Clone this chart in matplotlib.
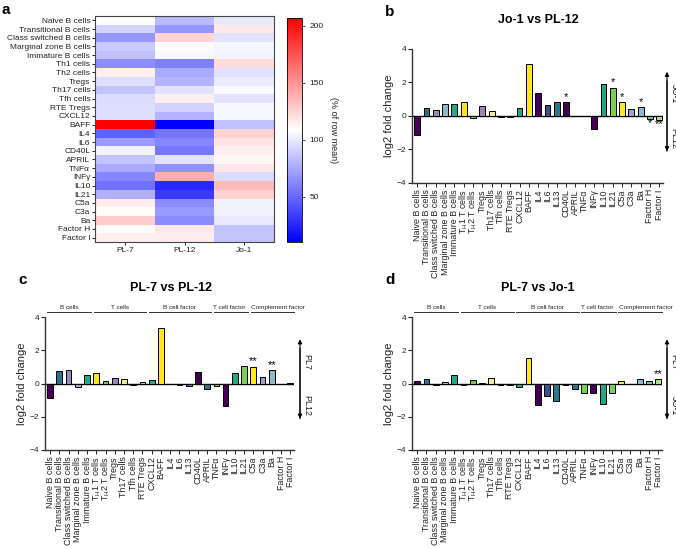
import numpy as np
import matplotlib
matplotlib.use('Agg')
import matplotlib.pyplot as plt

plt.rcParams['font.family'] = ['Liberation Sans', 'DejaVu Sans']
plt.rcParams['mathtext.default'] = 'regular'

# ---- heatmap data (% of row mean) ----
heat_rows = ['Naive B cells', 'Transitional B cells', 'Class switched B cells',
             'Marginal zone B cells', 'Immature B cells', 'Th1 cells', 'Th2 cells',
             'Tregs', 'Th17 cells', 'Tfh cells', 'RTE Tregs', 'CXCL12', 'BAFF',
             'IL4', 'IL6', 'CD40L', 'APRIL', 'TNFα', 'INFγ', 'IL10', 'IL21',
             'C5a', 'C3a', 'Ba', 'Factor H', 'Factor I']
heat_cols = ['PL-7', 'PL-12', 'Jo-1']
pl7_pct = [108, 92, 68, 88, 84, 64, 115, 96, 86, 95, 96, 96, 207, 48, 70,
           104, 86, 76, 62, 54, 78, 116, 110, 128, 110, 115]
pl12_pct = [82, 68, 125, 107, 106, 60, 76, 80, 97, 115, 92, 80, 10, 55, 62,
            56, 98, 66, 140, 26, 32, 64, 70, 64, 117, 116]
jo1_pct = [100, 117, 98, 105, 104, 122, 97, 101, 106, 98, 106, 106, 84, 125,
           120, 115, 112, 118, 95, 135, 126, 104, 104, 100, 86, 86]

# ---- bar data (log2 fold change) ----
bar_labels = ['Naive B cells', 'Transitional B cells', 'Class switched B cells',
              'Marginal zone B cells', 'Immature B cells', r'T$_H$1 T cells',
              r'T$_H$2 T cells', 'Tregs', 'Th17 cells', 'Tfh cells', 'RTE Tregs',
              'CXCL12', 'BAFF', 'IL4', 'IL6', 'IL13', 'CD40L', 'APRIL', 'TNFα',
              'INFγ', 'IL10', 'IL21', 'C5a', 'C3a', 'Ba', 'Factor H', 'Factor I']
jo1_vs_pl12 = [-1.11, 0.48, 0.38, 0.71, 0.73, 0.81, -0.1, 0.62, 0.3, -0.08, -0.05,
               0.48, 3.08, 1.37, 0.64, 0.83, 0.83, 0.0, 0.0, -0.75, 1.89, 1.69,
               0.82, 0.4, 0.52, -0.2, -0.26]
pl7_vs_pl12 = [-0.9, 0.76, 0.84, -0.2, 0.52, 0.66, 0.14, 0.36, 0.28, -0.1, 0.1,
               0.22, 3.32, -0.02, -0.1, -0.18, 0.7, -0.34, -0.14, -1.36, 0.62,
               1.04, 1.02, 0.42, 0.8, -0.02, 0.03]
pl7_vs_jo1 = [0.18, 0.26, -0.08, 0.08, 0.52, -0.12, 0.2, 0.06, 0.36, -0.12, -0.1,
              -0.22, 1.52, -1.32, -0.76, -1.04, -0.1, -0.36, -0.6, -0.56, -1.22,
              -0.6, 0.18, 0.0, 0.28, 0.18, 0.26]
stars_b = {16: '*', 21: '*', 22: '*', 24: '*', 25: '*', 26: '**'}
stars_c = {22: '**', 24: '**'}
stars_d = {26: '**'}
groups = [('B cells', 0, 4), ('T cells', 5, 10), ('B cell factor', 11, 17),
          ('T cell factor', 18, 21), ('Complement factor', 22, 26)]

bar_colors = ['#440154', '#2c728e', '#8f8cbf', '#8fb8cc', '#23a883', '#f6e51f',
              '#79c843', '#9d85b8', '#f4ee8e', '#440154', '#b5c7cc', '#22a884',
              '#fde725', '#440154', '#3b528b', '#2a788e', '#440154', '#2a788e',
              '#7ad151', '#440154', '#22a884', '#7ad151', '#fde725', '#a0a0cc',
              '#90b8cc', '#6cc7a8', '#b0e080']

W, H = 676, 549
fig = plt.figure(figsize=(W / 100, H / 100), dpi=100)
txt = '#222222'


def px(x0, y0, x1, y1):
    return [x0 / W, 1 - y1 / H, (x1 - x0) / W, (y1 - y0) / H]


# ---- panel a ----
ax = fig.add_axes(px(95, 16, 274, 242))
data = np.array([pl7_pct, pl12_pct, jo1_pct]).T
im = ax.imshow(data, cmap='bwr', vmin=10, vmax=207, aspect='auto')
ax.set_yticks(range(len(heat_rows)))
ax.set_yticklabels(heat_rows, fontsize=6, color=txt)
ax.set_xticks(range(3))
ax.set_xticklabels(heat_cols, fontsize=6, color=txt)
ax.tick_params(length=2, width=0.6, pad=1.5)
for s in ax.spines.values():
    s.set_color('#444444')
    s.set_linewidth(0.8)
cax = fig.add_axes(px(287, 18, 302, 242))
cb = fig.colorbar(im, cax=cax, ticks=[50, 100, 150, 200])
cb.ax.tick_params(labelsize=6, length=2, width=0.6, colors=txt)
cb.outline.set_linewidth(0.6)
cb.set_label('(% of row mean)', rotation=270, fontsize=6.5, labelpad=10, color=txt)
fig.text(2 / W, 1 - 10 / H, 'a', fontsize=11, fontweight='bold', va='center')


def bar_panel(box, vals, title, stars, top_lab, bot_lab, arrow_x, letter, use_groups):
    x0, y0, x1, y1 = box
    ax = fig.add_axes(px(x0, y0, x1, y1))
    x = np.arange(len(vals))
    ax.bar(x, vals, width=0.62, color=bar_colors, edgecolor='black', linewidth=0.7,
           zorder=3)
    ax.set_xlim(-0.55, 26.4)
    ax.set_ylim(-4, 4)
    ax.set_yticks([-4, -2, 0, 2, 4])
    ax.set_xticks(x)
    ax.set_xticklabels(bar_labels, rotation=90, fontsize=6.4, color=txt)
    ax.tick_params(axis='y', labelsize=6, length=3, width=0.8, pad=1, colors=txt)
    ax.tick_params(axis='x', length=3, width=0.6, pad=1.5)
    for side in ['top', 'right']:
        ax.spines[side].set_visible(False)
    for side in ['left', 'bottom']:
        ax.spines[side].set_linewidth(1.0)
        ax.spines[side].set_color('#333333')
    ax.set_ylabel('log2 fold change', fontsize=8, color=txt, labelpad=2)
    for i, s in stars.items():
        v = vals[i]
        if v >= 0:
            ax.text(i, v + 0.02, s, ha='center', va='bottom', fontsize=8)
        else:
            ax.text(i, v - 0.55, s, ha='center', va='bottom', fontsize=8)
    zero_y = (y0 + y1) / 2
    ax.add_line(plt.Line2D([x0 / W, arrow_x / W], [1 - zero_y / H] * 2,
                           transform=fig.transFigure, color='black', lw=1.0, zorder=2))
    fig.add_artist(matplotlib.patches.FancyArrowPatch(
        (arrow_x / W, 1 - (zero_y + 38) / H), (arrow_x / W, 1 - (zero_y - 47) / H),
        transform=fig.transFigure, arrowstyle='-|>', mutation_scale=6,
        color='black', lw=0.8))
    fig.add_artist(matplotlib.patches.FancyArrowPatch(
        (arrow_x / W, 1 - (zero_y - 38) / H), (arrow_x / W, 1 - (zero_y + 38) / H),
        transform=fig.transFigure, arrowstyle='-|>', mutation_scale=6,
        color='black', lw=0.8))
    fig.text((arrow_x + 7) / W, 1 - (zero_y - 22) / H, top_lab, rotation=270,
             ha='center', va='center', fontsize=6.5, color=txt)
    fig.text((arrow_x + 7) / W, 1 - (zero_y + 22) / H, bot_lab, rotation=270,
             ha='center', va='center', fontsize=6.5, color=txt)
    fig.text((x0 + x1) / 2 / W + 1 / W, 1 - (y0 - 29) / H, title, ha='center',
             va='center', fontsize=9, fontweight='bold')
    fig.text((x0 - 27) / W, 1 - (y0 - 37) / H, letter, fontsize=11,
             fontweight='bold', va='center')
    if use_groups:
        tr = ax.get_xaxis_transform()
        shifts = [0.05, 0.05, 0.05, -0.1, 0.7]
        for (name, a, b), sh in zip(groups, shifts):
            ax.plot([a - 0.3, b + 0.4], [1.04, 1.04], transform=tr, color='#333333',
                    lw=0.7, clip_on=False)
            ax.text((a + b) / 2 + sh, 1.075, name, transform=tr, ha='center',
                    va='center', fontsize=4.6, color=txt)
    return ax


bar_panel((412, 49, 663, 183), jo1_vs_pl12, 'Jo-1 vs PL-12', stars_b, 'JO-1', 'PL12',
          667, 'b', False)
bar_panel((45, 317, 294, 450), pl7_vs_pl12, 'PL-7 vs PL-12', stars_c, 'PL7', 'PL12',
          300, 'c', True)
bar_panel((412, 317, 662, 450), pl7_vs_jo1, 'PL-7 vs Jo-1', stars_d, 'PL7', 'JO-1',
          667, 'd', True)

fig.savefig('out.png', dpi=100)
